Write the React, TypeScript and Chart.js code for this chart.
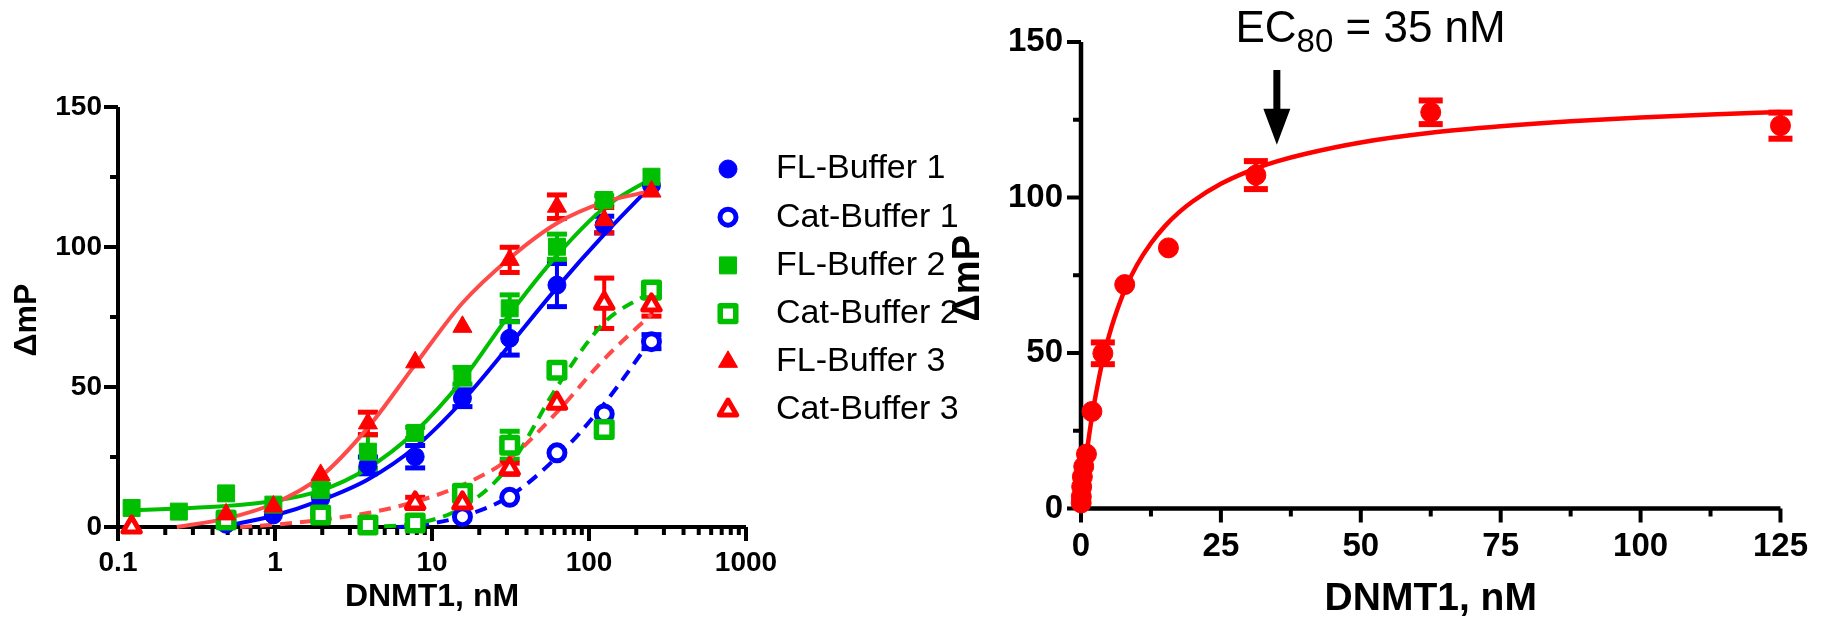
import React, { useEffect, useRef } from "react";
import { Chart, registerables } from "chart.js";
import { drawPoint } from "chart.js/helpers";

Chart.register(...registerables);

const FONT = "'Liberation Sans', Arial, Helvetica, sans-serif";

const BLUE = "#0000FF";
const GREEN = "#00BF00";
const RED = "#FF0000";
const RED_FIT = "#FF4A4A";

// ---------------- Left panel (log x) ----------------
const CONC = [250, 125, 62.5, 31.25, 15.625, 7.8125, 3.90625, 1.953125, 0.9765625, 0.48828125, 0.244140625, 0.1220703125];

const FL_BUFFER_1 = [122, 108, 86.4, 67.4, 46, 25.1, 22, 10, 4.3, 1, null, null];
const FL_BUFFER_1_ERR = [0, 3, 7.7, 6, 3, 4, 3, 5, 0, 0, 0, 0];
const CAT_BUFFER_1 = [66.2, 40.4, 26.5, 10.6, 3.7, null, null, null, null, null, null, null];
const CAT_BUFFER_1_ERR = [2.5, 0, 0, 0, 0, 0, 0, 0, 0, 0, 0, 0];
const FL_BUFFER_2 = [125.1, 116.8, 100.1, 78.1, 54, 33.6, 26.9, 13.2, 8, 12, 5.5, 6.8];
const FL_BUFFER_2_ERR = [0, 1.5, 4.5, 4.8, 3, 2, 6, 2, 0, 0, 0, 0];
const CAT_BUFFER_2 = [84.6, 34.8, 56, 29.2, 12, 1.4, 0.7, 4.3, null, 2.5, null, null];
const CAT_BUFFER_2_ERR = [1.5, 0, 0, 5, 0, 0, 0, 0, 0, 0, 0, 0];
const FL_BUFFER_3 = [119.8, 109.6, 114.4, 95.4, 71.5, 58.8, 37, 18.6, 7.3, 4.5, null, null];
const FL_BUFFER_3_ERR = [0, 4.5, 4.2, 4.5, 0, 0, 4, 0, 0, 0, 0, 0];
const CAT_BUFFER_3 = [79.3, 79.9, 44.2, 20.8, 8.6, 8.6, null, null, null, null, null, 0];
const CAT_BUFFER_3_ERR = [4, 9, 0, 2, 0, 2, 0, 0, 0, 0, 0, 0];

// fitted curves
const FIT_FL1_X = [0.45, 0.9765625, 1.953125, 3.90625, 7.8125, 15.625, 31.25, 62.5, 125, 250];
const FIT_FL1_Y = [0, 4, 9.5, 17, 28.5, 45, 65, 85.5, 104.5, 122];
const FIT_FL2_X = [0.1220703125, 0.244140625, 0.48828125, 0.9765625, 1.953125, 3.90625, 7.8125, 15.625, 31.25, 62.5, 125, 250];
const FIT_FL2_Y = [6, 6.6, 7.5, 9.3, 13, 21, 34, 52.5, 76, 97, 114, 124.5];
const FIT_FL3_X = [0.237, 0.48828125, 0.9765625, 1.953125, 3.90625, 7.8125, 15.625, 31.25, 62.5, 125, 250];
const FIT_FL3_Y = [0, 3, 8.3, 18, 35.5, 58, 80, 96, 108.5, 116, 120];
const FIT_CAT1_X = [6.0, 7.8125, 15.625, 31.25, 62.5, 125, 250];
const FIT_CAT1_Y = [0, 0.4, 3.8, 11, 25, 44, 67];
const FIT_CAT2_X = [3.7, 7.8125, 15.625, 31.25, 62.5, 125, 250];
const FIT_CAT2_Y = [0, 1.2, 7, 22, 50, 73, 84];
const FIT_CAT3_X = [0.6, 0.9765625, 1.953125, 3.90625, 7.8125, 15.625, 31.25, 62.5, 125, 250];
const FIT_CAT3_Y = [0, 0.8, 2.5, 5, 9, 15, 24.5, 41, 60, 76];

const LEFT_X_TICKS = [0.1, 1, 10, 100, 1000];
const LEFT_X_TICK_LABELS = ["0.1", "1", "10", "100", "1000"];
const LEFT_X_MINOR = [0.2, 0.3, 0.4, 0.5, 0.6, 0.7, 0.8, 0.9, 2, 3, 4, 5, 6, 7, 8, 9, 20, 30, 40, 50, 60, 70, 80, 90, 200, 300, 400, 500, 600, 700, 800, 900];
const LEFT_Y_TICKS = [0, 50, 100, 150];
const LEFT_Y_TICK_LABELS = ["0", "50", "100", "150"];
const LEFT_Y_MINOR = [25, 75, 125];

const LEGEND_LABELS = ["FL-Buffer 1", "Cat-Buffer 1", "FL-Buffer 2", "Cat-Buffer 2", "FL-Buffer 3", "Cat-Buffer 3"];

// ---------------- Right panel (linear x) ----------------
const R_CONC = [125, 62.5, 31.25, 15.625, 7.8125, 3.90625, 1.953125, 0.9765625, 0.48828125, 0.244140625, 0.1220703125, 0.06103515625, 0.030517578125];
const R_VALUES = [123.1, 127.4, 107.2, 83.8, 72, 49.9, 31.2, 17.5, 13.5, 10.2, 7, 3.8, 1.8];
const R_ERR = [4.2, 3.8, 4.5, 0, 0, 3.5, 0, 0, 0, 0, 0, 0, 0];
const R_FIT_X = [0, 0.5, 1, 2, 3, 4, 5, 6, 8, 10, 12.5, 15, 17.5, 20, 25, 30, 35, 40, 50, 62.5, 75, 87.5, 100, 112.5, 125];
const R_FIT_Y = [2, 10.3, 17.6, 30, 40, 48.6, 55.5, 61.4, 71, 78.3, 85.3, 90.8, 95.2, 98.8, 104.4, 108.5, 111.6, 114, 117.7, 120.8, 122.9, 124.5, 125.7, 126.7, 127.5];

const R_X_TICKS = [0, 25, 50, 75, 100, 125];
const R_X_TICK_LABELS = ["0", "25", "50", "75", "100", "125"];
const R_X_MINOR = [12.5, 37.5, 62.5, 87.5, 112.5];
const R_Y_TICKS = [0, 50, 100, 150];
const R_Y_TICK_LABELS = ["0", "50", "100", "150"];
const R_Y_MINOR = [25, 75, 125];

const EC_TEXT_X = 27.6;
const EC_TEXT_Y = 150;
const ARROW_X = 35;
const ARROW_TOP = 141;
const ARROW_HEAD = 128.5;
const ARROW_TIP = 117;

// ---------------- helpers ----------------
function points(xs: number[], ys: (number | null)[], es?: number[]) {
  const out: any[] = [];
  xs.forEach((x, i) => {
    const y = ys[i];
    if (y === null || y === undefined) return;
    out.push({ x, y, e: es ? es[i] : 0 });
  });
  return out;
}
function curve(xs: number[], ys: number[]) {
  return xs.map((x, i) => ({ x, y: ys[i] }));
}

function mkPlugin(cfg: any) {
  return {
    id: "gp_" + cfg.name,
    beforeDatasetsDraw(chart: any) {
      const { ctx, chartArea: a, scales } = chart;
      const xs = scales.x;
      const ys = scales.y;
      ctx.save();
      ctx.fillStyle = "#000";
      const lw = cfg.axisWidth;
      ctx.fillRect(a.left - lw / 2, a.top, lw, a.bottom - a.top + lw / 2);
      ctx.fillRect(a.left - lw / 2, a.bottom - lw / 2, a.right - a.left + lw / 2, lw);
      const tw = cfg.tickWidth;
      const tickX = (vals: number[], len: number) =>
        vals.forEach((v) => {
          const p = xs.getPixelForValue(v);
          ctx.fillRect(p - tw / 2, a.bottom, tw, len);
        });
      const tickY = (vals: number[], len: number) =>
        vals.forEach((v) => {
          const p = ys.getPixelForValue(v);
          ctx.fillRect(a.left - len, p - tw / 2, len, tw);
        });
      tickX(cfg.xMajor, cfg.majorLen);
      tickX(cfg.xMinor, cfg.minorLen);
      tickY(cfg.yMajor, cfg.majorLen);
      tickY(cfg.yMinor, cfg.minorLen);

      chart.data.datasets.forEach((ds: any) => {
        if (!ds.errColor) return;
        ctx.fillStyle = ds.errColor;
        ds.data.forEach((pt: any) => {
          if (!pt.e) return;
          const px = xs.getPixelForValue(pt.x);
          const hi = ys.getPixelForValue(pt.y + pt.e);
          const lo = ys.getPixelForValue(pt.y - pt.e);
          ctx.fillRect(px - cfg.errWidth / 2, hi, cfg.errWidth, lo - hi);
          ctx.fillRect(px - cfg.capWidth / 2, hi - cfg.capThick / 2, cfg.capWidth, cfg.capThick);
          ctx.fillRect(px - cfg.capWidth / 2, lo - cfg.capThick / 2, cfg.capWidth, cfg.capThick);
        });
      });
      ctx.restore();
      ctx.lineJoin = "round";
    },
    afterDraw(chart: any) {
      const { ctx, chartArea: a, scales } = chart;
      ctx.save();
      ctx.fillStyle = "#000";
      ctx.textAlign = "center";
      ctx.textBaseline = "middle";
      ctx.font = `bold ${cfg.titleSize}px ${FONT}`;
      ctx.fillText(cfg.xTitle, (a.left + a.right) / 2, cfg.xTitleY);
      ctx.save();
      ctx.translate(cfg.yTitleX, (a.top + a.bottom) / 2 + cfg.yTitleDy);
      ctx.rotate(-Math.PI / 2);
      ctx.font = `bold ${cfg.yTitleSize}px ${FONT}`;
      ctx.fillText(cfg.yTitle, 0, 0);
      ctx.restore();

      if (cfg.legend) {
        const L = cfg.legend;
        ctx.lineJoin = "round";
        L.items.forEach((it: any, i: number) => {
          const ds = chart.data.datasets[it.ds];
          const y = L.y0 + i * L.dy;
          ctx.fillStyle = ds.pointBackgroundColor;
          ctx.strokeStyle = ds.pointBorderColor;
          ctx.lineWidth = ds.pointBorderWidth;
          drawPoint(ctx, { pointStyle: ds.pointStyle, radius: ds.pointRadius, borderWidth: ds.pointBorderWidth, rotation: 0 } as any, L.x, y);
          ctx.fillStyle = "#000";
          ctx.textAlign = "left";
          ctx.textBaseline = "middle";
          ctx.font = `${L.size}px ${FONT}`;
          ctx.fillText(it.label, L.textX, y);
        });
      }

      if (cfg.ec) {
        const xs = scales.x;
        const ys = scales.y;
        let x = xs.getPixelForValue(EC_TEXT_X);
        const yb = ys.getPixelForValue(EC_TEXT_Y);
        ctx.fillStyle = "#000";
        ctx.textAlign = "left";
        ctx.textBaseline = "alphabetic";
        ctx.font = `44px ${FONT}`;
        ctx.fillText("EC", x, yb);
        x += ctx.measureText("EC").width;
        ctx.font = `33px ${FONT}`;
        ctx.fillText("80", x, yb + 10);
        x += ctx.measureText("80").width;
        ctx.font = `44px ${FONT}`;
        ctx.fillText(" = 35 nM", x, yb);

        const ax = xs.getPixelForValue(ARROW_X);
        const top = ys.getPixelForValue(ARROW_TOP);
        const head = ys.getPixelForValue(ARROW_HEAD);
        const tip = ys.getPixelForValue(ARROW_TIP);
        ctx.fillRect(ax - 3.5, top, 7, head - top + 1);
        ctx.beginPath();
        ctx.moveTo(ax - 13.5, head);
        ctx.lineTo(ax + 13.5, head);
        ctx.lineTo(ax, tip);
        ctx.closePath();
        ctx.fill();
      }
      ctx.restore();
    },
  };
}

function markerDs(label: string, data: any[], style: any, color: string, filled: boolean, order: number) {
  return {
    label,
    data,
    showLine: false,
    pointStyle: style.shape,
    pointRadius: style.r,
    pointHoverRadius: style.r,
    pointBackgroundColor: filled ? color : "#FFFFFF",
    pointBorderColor: color,
    pointBorderWidth: filled ? 1 : style.bw,
    errColor: color,
    clip: false,
    order,
  };
}

function fitDs(data: any[], color: string, dashed: boolean, width: number, order: number) {
  return {
    label: "",
    data,
    showLine: true,
    borderColor: color,
    borderWidth: width,
    borderDash: dashed ? [12, 8] : [],
    pointRadius: 0,
    pointHoverRadius: 0,
    cubicInterpolationMode: "monotone",
    fill: false,
    clip: false,
    order,
  };
}

function leftConfig(): any {
  const datasets = [
    markerDs(LEGEND_LABELS[0], points(CONC, FL_BUFFER_1, FL_BUFFER_1_ERR), { shape: "circle", r: 9 }, BLUE, true, 6),
    markerDs(LEGEND_LABELS[1], points(CONC, CAT_BUFFER_1, CAT_BUFFER_1_ERR), { shape: "circle", r: 8, bw: 5 }, BLUE, false, 5),
    markerDs(LEGEND_LABELS[2], points(CONC, FL_BUFFER_2, FL_BUFFER_2_ERR), { shape: "rect", r: 12 }, GREEN, true, 4),
    markerDs(LEGEND_LABELS[3], points(CONC, CAT_BUFFER_2, CAT_BUFFER_2_ERR), { shape: "rect", r: 11, bw: 5.5 }, GREEN, false, 3),
    markerDs(LEGEND_LABELS[4], points(CONC, FL_BUFFER_3, FL_BUFFER_3_ERR), { shape: "triangle", r: 11 }, RED, true, 2),
    markerDs(LEGEND_LABELS[5], points(CONC, CAT_BUFFER_3, CAT_BUFFER_3_ERR), { shape: "triangle", r: 10, bw: 5 }, RED, false, 1),
    fitDs(curve(FIT_FL1_X, FIT_FL1_Y), BLUE, false, 4, 26),
    fitDs(curve(FIT_CAT1_X, FIT_CAT1_Y), BLUE, true, 4, 25),
    fitDs(curve(FIT_FL2_X, FIT_FL2_Y), GREEN, false, 4, 24),
    fitDs(curve(FIT_CAT2_X, FIT_CAT2_Y), GREEN, true, 4, 23),
    fitDs(curve(FIT_FL3_X, FIT_FL3_Y), RED_FIT, false, 4, 22),
    fitDs(curve(FIT_CAT3_X, FIT_CAT3_Y), RED_FIT, true, 4, 21),
  ];
  const plugin = mkPlugin({
    name: "left",
    axisWidth: 4,
    tickWidth: 4,
    majorLen: 14,
    minorLen: 8,
    xMajor: LEFT_X_TICKS,
    xMinor: LEFT_X_MINOR,
    yMajor: LEFT_Y_TICKS,
    yMinor: LEFT_Y_MINOR,
    errWidth: 4,
    capWidth: 20,
    capThick: 5,
    titleSize: 32,
    yTitleSize: 32,
    xTitle: "DNMT1, nM",
    xTitleY: 597,
    yTitle: "\u0394mP",
    yTitleX: 27,
    yTitleDy: 3,
    legend: {
      x: 728,
      textX: 776,
      y0: 169,
      dy: 48.2,
      size: 34,
      items: LEGEND_LABELS.map((label, i) => ({ label, ds: i })),
    },
  });
  return {
    type: "scatter",
    data: { datasets },
    plugins: [plugin],
    options: {
      responsive: false,
      animation: false,
      events: [],
      layout: { padding: { left: 0, top: 107, right: 254, bottom: 0 } },
      plugins: { legend: { display: false }, tooltip: { enabled: false } },
      scales: {
        x: {
          type: "logarithmic",
          min: 0.1,
          max: 1000,
          grid: { display: false, drawTicks: false },
          border: { display: false },
          afterFit: (s: any) => {
            s.height = 98;
          },
          afterBuildTicks: (s: any) => {
            s.ticks = LEFT_X_TICKS.map((v) => ({ value: v }));
          },
          ticks: {
            autoSkip: false,
            maxRotation: 0,
            minRotation: 0,
            padding: 19,
            color: "#000",
            font: { family: FONT, size: 28, weight: "bold" },
            callback: (_v: any, i: number) => LEFT_X_TICK_LABELS[i],
          },
        },
        y: {
          type: "linear",
          min: 0,
          max: 150,
          grid: { display: false, drawTicks: false },
          border: { display: false },
          afterFit: (s: any) => {
            s.width = 118;
          },
          afterBuildTicks: (s: any) => {
            s.ticks = LEFT_Y_TICKS.map((v) => ({ value: v }));
          },
          ticks: {
            autoSkip: false,
            padding: 16,
            color: "#000",
            font: { family: FONT, size: 28, weight: "bold" },
            callback: (_v: any, i: number) => LEFT_Y_TICK_LABELS[i],
          },
        },
      },
    },
  };
}

function rightConfig(): any {
  const datasets = [
    markerDs("DNMT1", points(R_CONC, R_VALUES, R_ERR), { shape: "circle", r: 10 }, RED, true, 1),
    fitDs(curve(R_FIT_X, R_FIT_Y), RED, false, 4.5, 2),
  ];
  const plugin = mkPlugin({
    name: "right",
    axisWidth: 4.5,
    tickWidth: 4,
    majorLen: 14,
    minorLen: 8,
    xMajor: R_X_TICKS,
    xMinor: R_X_MINOR,
    yMajor: R_Y_TICKS,
    yMinor: R_Y_MINOR,
    errWidth: 5,
    capWidth: 24,
    capThick: 6,
    titleSize: 39,
    yTitleSize: 38,
    xTitle: "DNMT1, nM",
    xTitleY: 599,
    yTitle: "\u0394mP",
    yTitleX: 69,
    yTitleDy: 3,
    ec: true,
  });
  return {
    type: "scatter",
    data: { datasets },
    plugins: [plugin],
    options: {
      responsive: false,
      animation: false,
      events: [],
      layout: { padding: { left: 0, top: 42, right: 40, bottom: 0 } },
      plugins: { legend: { display: false }, tooltip: { enabled: false } },
      scales: {
        x: {
          type: "linear",
          min: 0,
          max: 125,
          grid: { display: false, drawTicks: false },
          border: { display: false },
          afterFit: (s: any) => {
            s.height = 116.5;
          },
          afterBuildTicks: (s: any) => {
            s.ticks = R_X_TICKS.map((v) => ({ value: v }));
          },
          ticks: {
            autoSkip: false,
            maxRotation: 0,
            minRotation: 0,
            padding: 19,
            color: "#000",
            font: { family: FONT, size: 33, weight: "bold" },
            callback: (_v: any, i: number) => R_X_TICK_LABELS[i],
          },
        },
        y: {
          type: "linear",
          min: 0,
          max: 150,
          grid: { display: false, drawTicks: false },
          border: { display: false },
          afterFit: (s: any) => {
            s.width = 181;
          },
          afterBuildTicks: (s: any) => {
            s.ticks = R_Y_TICKS.map((v) => ({ value: v }));
          },
          ticks: {
            autoSkip: false,
            padding: 18,
            color: "#000",
            font: { family: FONT, size: 33, weight: "bold" },
            callback: (_v: any, i: number) => R_Y_TICK_LABELS[i],
          },
        },
      },
    },
  };
}

export default function App() {
  const leftRef = useRef<HTMLCanvasElement>(null);
  const rightRef = useRef<HTMLCanvasElement>(null);
  useEffect(() => {
    const c1 = new Chart(leftRef.current as HTMLCanvasElement, leftConfig());
    const c2 = new Chart(rightRef.current as HTMLCanvasElement, rightConfig());
    return () => {
      c1.destroy();
      c2.destroy();
    };
  }, []);
  return (
    <div style={{ position: "absolute", left: 0, top: 0, width: 1827, height: 625, background: "#FFFFFF", overflow: "hidden" }}>
      <canvas ref={leftRef} width={1000} height={625} style={{ position: "absolute", left: 0, top: 0, width: 1000, height: 625 }} />
      <canvas ref={rightRef} width={927} height={625} style={{ position: "absolute", left: 900, top: 0, width: 927, height: 625 }} />
    </div>
  );
}
